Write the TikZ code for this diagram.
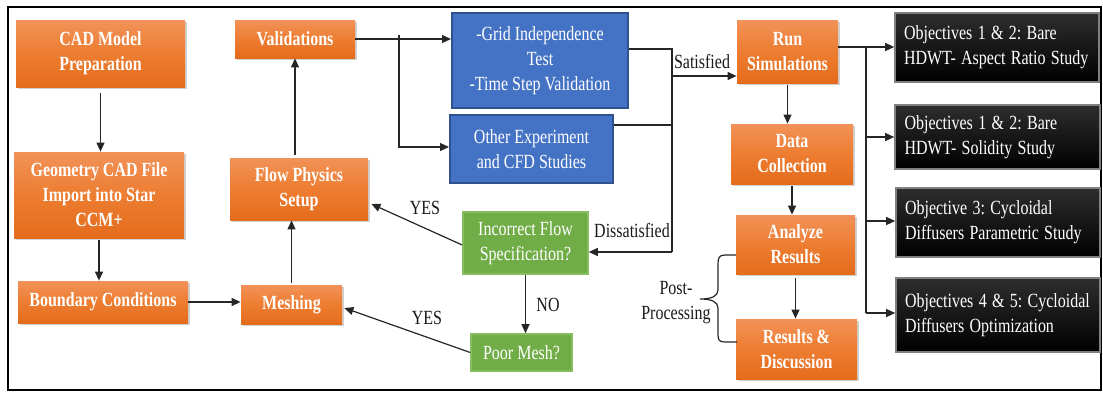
\documentclass[tikz,border=0pt]{standalone}
\usepackage{fontspec}
\setmainfont{Liberation Serif}
\usetikzlibrary{arrows.meta,shadows}
\frenchspacing
\definecolor{orTop}{RGB}{242,146,88}
\definecolor{orMid}{RGB}{237,125,49}
\definecolor{orBot}{RGB}{228,108,28}
\definecolor{blueF}{RGB}{68,114,196}
\definecolor{blueD}{RGB}{47,82,143}
\definecolor{greenF}{RGB}{112,173,71}
\definecolor{greenD}{RGB}{134,190,96}
\newcommand{\nx}[1]{\scalebox{0.86}[1.08]{#1}}
\begin{document}
\begin{tikzpicture}[x=0.5pt,y=-0.5pt,
  every node/.style={font=\fontsize{9.3pt}{12.5pt}\selectfont, inner sep=0pt},
  obox/.style={rectangle, top color=orTop, bottom color=orBot, middle color=orMid,
     text=white, font=\fontsize{9.3pt}{12.5pt}\selectfont\bfseries, align=center,
     drop shadow={shadow xshift=1.2pt, shadow yshift=-1.2pt, fill=black!40, opacity=0.45}},
  bbox/.style={rectangle, fill=blueF, draw=blueD, line width=1pt, text=white, align=center},
  gbox/.style={rectangle, fill=greenF, draw=greenD, line width=0.8pt, text=white, align=center},
  kbox/.style={rectangle, top color=black!82, bottom color=black, draw=black!50, line width=0.8pt,
     text=white, align=left, text width=93pt},
  line/.style={draw=black!85, line width=0.6pt},
  arr/.style={line, -{Triangle[length=4.5pt,width=4pt]}},
  lbl/.style={text=black!90}]
\useasboundingbox (0,0) rectangle (1103,392);
\draw[line width=1.1pt] (8,7) rectangle (1101,390);
% orange boxes
\node[obox, minimum width=84.5pt, minimum height=33.5pt] (cad) at (100.5,53.5) {\nx{CAD Model}\\\nx{Preparation}};
\node[obox, minimum width=85pt, minimum height=43pt] (geo) at (99,195) {\nx{Geometry CAD File}\\\nx{Import into Star}\\\nx{CCM+}};
\node[obox, minimum width=85pt, minimum height=21pt] (bc) at (103,302) {\nx{Boundary Conditions}};
\node[obox, minimum width=60pt, minimum height=19pt] (val) at (295,39) {\nx{Validations}};
\node[obox, minimum width=69pt, minimum height=31pt] (flow) at (299,189) {\nx{Flow Physics}\\\nx{Setup}};
\node[obox, minimum width=50.5pt, minimum height=19.5pt] (mesh) at (291.5,304.5) {\nx{Meshing}};
\node[obox, minimum width=50.5pt, minimum height=31.5pt] (run) at (787.5,51.5) {\nx{Run}\\\nx{Simulations}};
\node[obox, minimum width=61pt, minimum height=30pt] (data) at (792,154) {\nx{Data}\\\nx{Collection}};
\node[obox, minimum width=59.5pt, minimum height=29.5pt] (ana) at (795.5,244.5) {\nx{Analyze}\\\nx{Results}};
\node[obox, minimum width=60.5pt, minimum height=30pt] (res) at (796.5,349) {\nx{Results \&}\\\nx{Discussion}};
% blue boxes
\node[bbox, minimum width=88pt, minimum height=47.5pt] (grid) at (540,60.5) {\nx{-Grid Independence}\\\nx{Test}\\\nx{-Time Step Validation}};
\node[bbox, minimum width=81.5pt, minimum height=34pt] (other) at (531.5,149) {\nx{Other Experiment}\\\nx{and CFD Studies}};
% green boxes
\node[gbox, minimum width=62.5pt, minimum height=31pt] (inc) at (525.5,243) {\nx{Incorrect Flow}\\\nx{Specification?}};
\node[gbox, minimum width=50.5pt, minimum height=18.5pt] (poor) at (521.5,352.5) {\nx{Poor Mesh?}};
% black boxes
\node[kbox, minimum width=102pt, minimum height=34.5pt] (o1) at (997,47.5) {\nx{Objectives 1 \& 2: Bare}\\\nx{HDWT- Aspect Ratio Study}};
\node[kbox, minimum width=102.5pt, minimum height=32pt] (o2) at (997.5,137) {\nx{Objectives 1 \& 2: Bare}\\\nx{HDWT- Solidity Study}};
\node[kbox, minimum width=102pt, minimum height=34.5pt] (o3) at (998,222.5) {\nx{Objective 3: Cycloidal}\\\nx{Diffusers Parametric Study}};
\node[kbox, minimum width=102pt, minimum height=37pt] (o4) at (998,315) {\nx{Objectives 4 \& 5: Cycloidal}\\\nx{Diffusers Optimization}};
% left column
\draw[arr, shorten <=3pt] (cad.south) -- (cad.south |- geo.north);
\draw[arr, shorten <=1pt] (geo.south) -- (geo.south |- bc.north);
\draw[arr] (bc.east) -- (bc.east -| mesh.west);
\draw[arr, shorten <=1pt] (mesh.north) -- (mesh.north |- flow.south);
\draw[arr, shorten <=1.5pt] (flow.north -| val.south) -- (val.south);
% validations branch
\coordinate (vb) at (399,35);
\draw[arr] (val.east) -- (val.east -| grid.west);
\draw[arr] (vb) |- ([yshift=1pt]other.west);
% satisfied / dissatisfied junction
\coordinate (jt) at (672,49);
\coordinate (jb) at (672,252);
\coordinate (js) at (672,76);
\draw[line] ([yshift=5.75pt]grid.east) -- (jt) -- (jb);
\draw[line] ([yshift=12pt]other.east) -- ([yshift=12pt]other.east -| jt);
\draw[arr] (js) -- (js -| run.west);
\draw[arr] (jb) -- (jb -| inc.east);
\node[lbl] (sat) at (702,62) {\nx{Satisfied}};
\node[lbl] (dis) at (632,231) {\nx{Dissatisfied}};
% decisions
\draw[arr] ([yshift=-1pt]inc.west) -- ([yshift=-7.5pt,xshift=1.5pt]flow.east);
\node[lbl] (yes1) at (425,208) {\nx{YES}};
\draw[arr] (inc.south) -- (inc.south |- poor.north);
\node[lbl] (no) at (548,305) {\nx{NO}};
\draw[arr] (poor.west) -- ([yshift=-1.75pt,xshift=1pt]mesh.east);
\node[lbl] (yes2) at (427,318) {\nx{YES}};
% right column
\draw[arr, shorten <=1pt] (run.south) -- (run.south |- data.north);
\draw[arr, shorten <=1pt] (data.south) -- (data.south |- ana.north);
\draw[arr, shorten <=2pt] (ana.south) -- (ana.south |- res.north);
\coordinate (rj) at (866,47);
\coordinate (r2) at (866,137);
\coordinate (r3) at (866,221);
\coordinate (r4) at (866,313);
\draw[line] (run.east |- rj) -- (rj) -- (r4);
\draw[arr] (rj) -- (rj -| o1.west);
\draw[arr] (r2) -- (r2 -| o2.west);
\draw[arr] (r3) -- (r3 -| o3.west);
\draw[arr] (r4) -- (r4 -| o4.west);
% brace
\draw[line] (736,255) -- (725,255) .. controls (719,255) and (718,258) .. (718,264) -- (718,290)
  .. controls (718,296) and (712,299) .. (700,299) .. controls (712,299) and (718,302) .. (718,308)
  -- (718,334) .. controls (718,340) and (719,342) .. (725,342) -- (737,342);
\node[lbl, align=center] (post) at (676,303) {\nx{Post-}\\\nx{Processing}};
\end{tikzpicture}
\end{document}
